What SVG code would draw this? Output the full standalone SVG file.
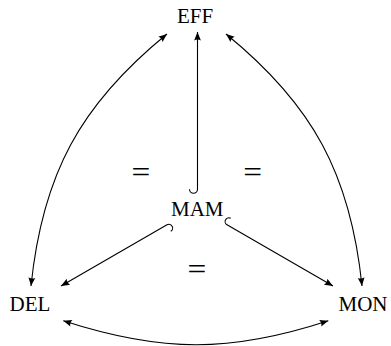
<svg xmlns="http://www.w3.org/2000/svg" width="391" height="346" viewBox="0 0 391 346">
<style>
.lbl{font-family:"Liberation Serif","Times New Roman",serif;font-size:21px;fill:#000;text-anchor:middle}
.eq{font-family:"Liberation Serif","Times New Roman",serif;font-size:29px;fill:#000;text-anchor:middle}
.c{fill:none;stroke:#000;stroke-width:1.1}
</style>
<defs>
<marker id="ah" markerUnits="userSpaceOnUse" markerWidth="12" markerHeight="10" refX="10" refY="5" orient="auto-start-reverse" viewBox="0 0 12 10">
<path d="M10,5 L1.5,1.6 Q3.5,5 1.5,8.4 Z" fill="#000"/>
</marker>
</defs>
<rect width="391" height="346" fill="#fff"/>
<g id="connectors">
<path class="c" d="M167,34 C80.1,104.7 42.4,174.6 31,286" marker-start="url(#ah)" marker-end="url(#ah)"/>
<path class="c" d="M226,34 C312.9,104.7 350.6,174.6 362,286" marker-start="url(#ah)" marker-end="url(#ah)"/>
<path class="c" d="M63.3,320.7 C161.9,352.7 230.8,352.7 328.3,320.7" marker-start="url(#ah)" marker-end="url(#ah)"/>
<path class="c" d="M189.5,189.3 A4,4 0 0 0 197.5,189.3 V32" marker-end="url(#ah)"/>
<path class="c" d="M170.75,231.3 A3.75,3.75 0 0 0 167,224.8 L61,286" marker-end="url(#ah)"/>
<path class="c" d="M230.75,218.3 A3.75,3.75 0 0 0 227,224.8 L333,286" marker-end="url(#ah)"/>
</g>
<g id="EFF"><text class="lbl" x="195" y="23">EFF</text></g>
<g id="MAM"><text class="lbl" x="197.3" y="216">MAM</text></g>
<g id="DEL"><text class="lbl" x="30" y="311">DEL</text></g>
<g id="MON"><text class="lbl" x="363" y="311">MON</text></g>
<g id="labels">
<text class="eq" transform="translate(141,182) scale(1.15,1)">=</text>
<text class="eq" transform="translate(252.7,182) scale(1.15,1)">=</text>
<text class="eq" transform="translate(197,279) scale(1.15,1)">=</text>
</g>
</svg>
